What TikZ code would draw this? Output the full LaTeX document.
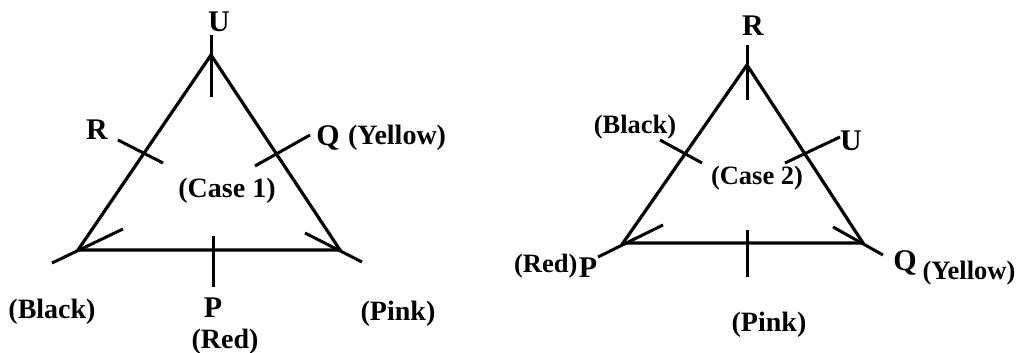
\documentclass[tikz,border=0pt]{standalone}
\usepackage{fontspec}
\setmainfont{Liberation Serif}
\usetikzlibrary{positioning}

\begin{document}
\begin{tikzpicture}[
  x=1pt, y=-1pt,
  side/.style={line width=3.2pt},
  seat/.style={line width=3pt},
  who/.style={font=\fontsize{30}{31}\selectfont\bfseries, inner sep=0pt},
  lbl/.style={font=\fontsize{28}{29}\selectfont\bfseries, inner sep=0pt},
  small/.style={font=\fontsize{26.5}{27}\selectfont\bfseries, inner sep=0pt}
]
\useasboundingbox (0,0) rectangle (1018,353);

% Case 1
\coordinate (t1) at (211,55);
\coordinate (l1) at (78,250);
\coordinate (r1) at (340,250);
\draw[side] (t1) -- (l1) -- (r1) -- cycle;

\coordinate (t1a) at (211,35);  \coordinate (t1b) at (211,97);
\coordinate (ra) at (118,140);  \coordinate (rb) at (163,163);
\coordinate (qa) at (310,135);  \coordinate (qb) at (255,166);
\coordinate (l1a) at (52,263);  \coordinate (l1b) at (123,229);
\coordinate (r1a) at (362,262); \coordinate (r1b) at (305,233);
\coordinate (b1a) at (213,236); \coordinate (b1b) at (213,287);
\draw[seat] (t1a) -- (t1b);
\draw[seat] (ra) -- (rb);
\draw[seat] (qa) -- (qb);
\draw[seat] (l1a) -- (l1b);
\draw[seat] (r1a) -- (r1b);
\draw[seat] (b1a) -- (b1b);

\node[who] (u1) at (219,22) {U};
\node[who] (rr1) at (97,130) {R};
\node[who] (q1) at (328,138) {Q};
\node[lbl, right=8pt of q1] (y1) {(Yellow)};
\node[lbl] (c1) at (227,191) {(Case 1)};
\node[lbl] (k1) at (52,312) {(Black)};
\node[who] (p1) at (213,308) {P};
\node[lbl] (d1) at (225,342) {(Red)};
\node[lbl] (n1) at (398,314) {(Pink)};

% Case 2
\coordinate (t2) at (747,65);
\coordinate (l2) at (623,243);
\coordinate (r2) at (863,243);
\draw[side] (t2) -- (l2) -- (r2) -- cycle;

\coordinate (t2a) at (747,45);  \coordinate (t2b) at (747,100);
\coordinate (ka) at (660,140);  \coordinate (kb) at (702,163);
\coordinate (ua) at (840,137);  \coordinate (ub) at (785,163);
\coordinate (l2a) at (598,257); \coordinate (l2b) at (663,225);
\coordinate (r2a) at (883,255); \coordinate (r2b) at (833,227);
\coordinate (b2a) at (747,230); \coordinate (b2b) at (747,277);
\draw[seat] (t2a) -- (t2b);
\draw[seat] (ka) -- (kb);
\draw[seat] (ua) -- (ub);
\draw[seat] (l2a) -- (l2b);
\draw[seat] (r2a) -- (r2b);
\draw[seat] (b2a) -- (b2b);

\node[who] (rr2) at (753,26) {R};
\node[small] (k2) at (635,127) {(Black)};
\node[who] (u2) at (851,141) {U};
\node[small] (c2) at (757,178) {(Case 2)};
\node[who] (p2) at (588,268) {P};
\node[small, left=1pt of p2.south west, anchor=south east] (d2) {(Red)};
\node[who] (q2) at (905,263) {Q};
\node[small] (y2) at (969,273) {(Yellow)};
\node[lbl] (n2) at (769,325) {(Pink)};

\end{tikzpicture}
\end{document}
